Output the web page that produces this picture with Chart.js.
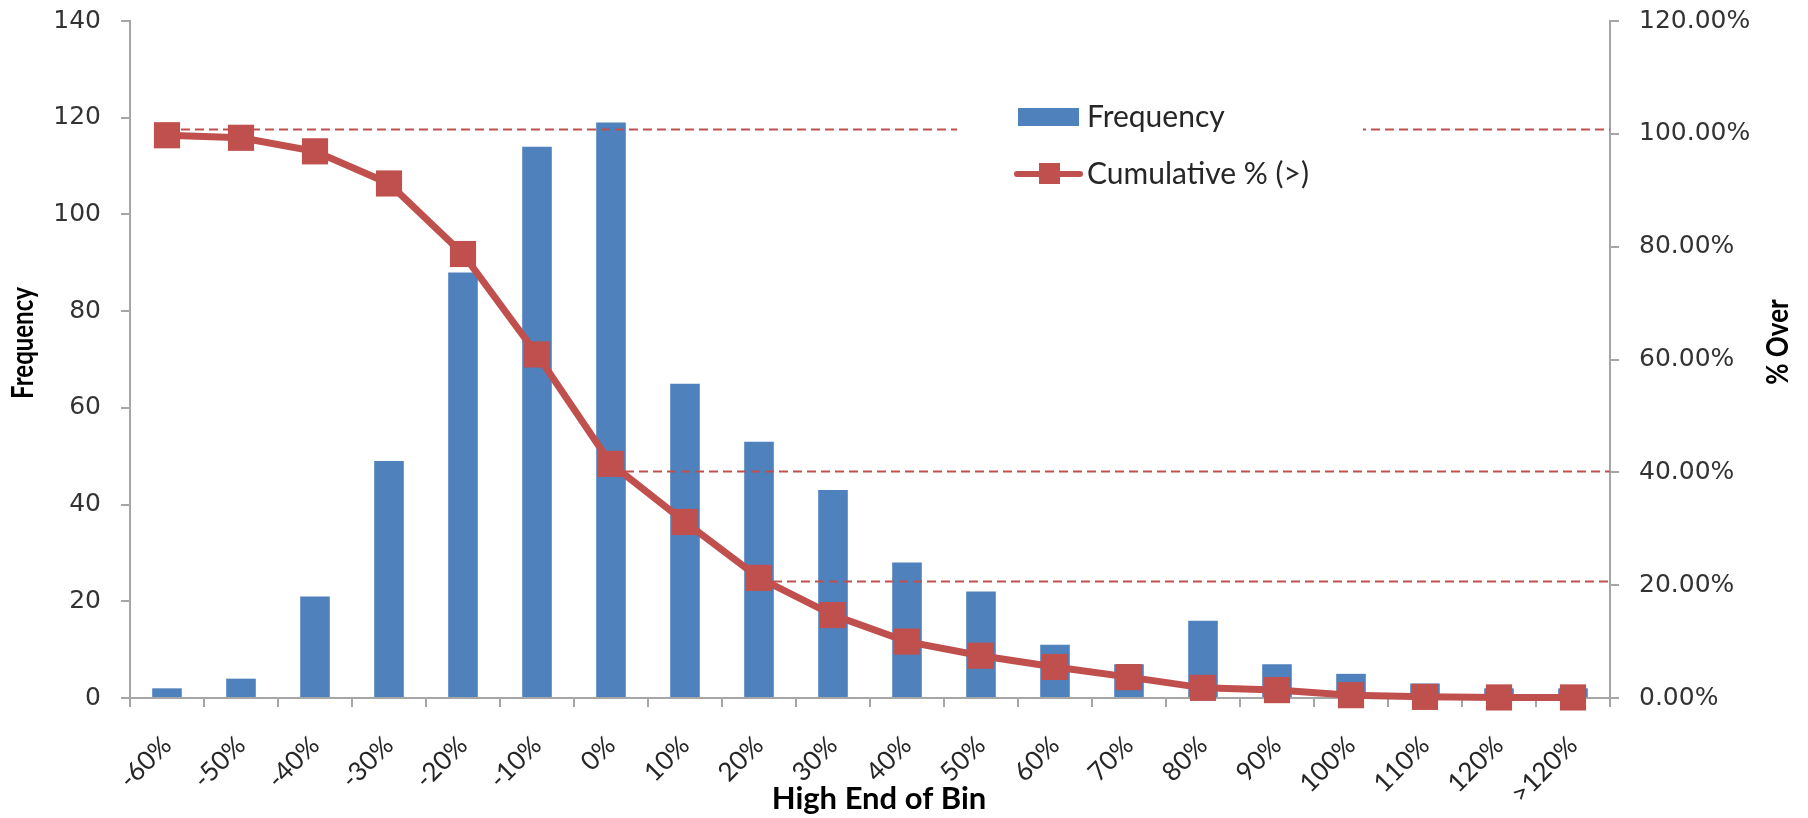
<!DOCTYPE html>
<html>
<head>
<meta charset="utf-8">
<script src="https://cdn.jsdelivr.net/npm/chart.js@4.4.1/dist/chart.umd.min.js"></script>
<style>
html,body{margin:0;padding:0;background:#ffffff;}
#wrap{width:1808px;height:818px;position:relative;}
</style>
</head>
<body>
<div id="wrap"><canvas id="c" width="1808" height="818"></canvas></div>
<script>
// ---- data ----
const categories = ['-60%','-50%','-40%','-30%','-20%','-10%','0%','10%','20%','30%','40%','50%','60%','70%','80%','90%','100%','110%','120%','>120%'];
const frequency = [2,4,21,49,88,114,119,65,53,43,28,22,11,7,16,7,5,3,2,2];
const cumulativeOver = [99.75,99.3,96.9,91.2,78.7,60.9,41.5,31.2,21.3,14.7,10.0,7.5,5.5,3.7,1.8,1.4,0.5,0.2,0.1,0.1];
const refLevels = [100.8, 40.3, 20.8];
const refStartIndex = [0, 6, 8];
const seriesNames = ['Frequency', 'Cumulative % (>)'];
const axisTitles = {x: 'High End of Bin', y: 'Frequency', y1: '% Over'};

const BLUE = '#4F81BD';
const RED = '#C0504D';
const AXIS = '#A6A6A6';
const TXT = '#262626';

const refLinesPlugin = {
  id: 'refLines',
  afterDatasetDraw(chart, args) {
    if (args.index !== 0) return;
    const ctx = chart.ctx, xs = chart.scales.x, ys = chart.scales.y1, ca = chart.chartArea;
    ctx.save();
    ctx.strokeStyle = RED;
    ctx.lineWidth = 2;
    ctx.setLineDash([9,5]);
    refLevels.forEach((lv, i) => {
      const y = Math.round(ys.getPixelForValue(lv)) + 0.5;
      ctx.beginPath();
      ctx.moveTo(xs.getPixelForValue(refStartIndex[i]), y);
      ctx.lineTo(ca.right, y);
      ctx.stroke();
    });
    ctx.restore();
  }
};

const legendPlugin = {
  id: 'customLegend',
  afterDraw(chart) {
    const ctx = chart.ctx;
    ctx.save();
    ctx.fillStyle = '#ffffff';
    ctx.fillRect(957, 84, 406, 122);
    // bar entry
    ctx.fillStyle = BLUE;
    ctx.fillRect(1018, 108, 61, 18);
    ctx.font = '30px Lato';
    ctx.fillStyle = TXT;
    ctx.textBaseline = 'middle';
    ctx.textAlign = 'left';
    ctx.fillText(seriesNames[0], 1087, 117);
    // line entry
    ctx.strokeStyle = RED;
    ctx.lineWidth = 6;
    ctx.lineCap = 'round';
    ctx.beginPath();
    ctx.moveTo(1017, 174);
    ctx.lineTo(1080, 174);
    ctx.stroke();
    ctx.fillStyle = RED;
    ctx.fillRect(1039, 163, 21, 21);
    ctx.fillStyle = TXT;
    ctx.fillText(seriesNames[1], 1087, 174);
    ctx.restore();
  }
};

const titlesPlugin = {
  id: 'axisTitles',
  afterDraw(chart) {
    const ctx = chart.ctx;
    ctx.save();
    ctx.fillStyle = '#000';
    ctx.textAlign = 'center';
    ctx.textBaseline = 'middle';
    // x title
    ctx.font = 'bold 31px Lato';
    ctx.fillText(axisTitles.x, 879, 799);
    // vertical titles (read bottom to top)
    ctx.save();
    ctx.font = 'bold 24px Lato';
    ctx.translate(23, 343);
    ctx.rotate(-Math.PI / 2);
    ctx.scale(1, 1.3);
    ctx.fillText(axisTitles.y, 0, 0);
    ctx.restore();
    ctx.save();
    ctx.font = 'bold 26px Lato';
    ctx.translate(1778, 342);
    ctx.rotate(-Math.PI / 2);
    ctx.scale(1, 1.2);
    ctx.fillText(axisTitles.y1, 0, 0);
    ctx.restore();
    ctx.restore();
  }
};

function zeroPad(s) { s.paddingTop = 0; s.paddingBottom = 0; }

new Chart(document.getElementById('c'), {
  data: {
    labels: categories,
    datasets: [
      {
        type: 'bar',
        label: seriesNames[0],
        data: frequency,
        backgroundColor: BLUE,
        borderWidth: 0,
        barPercentage: 0.4,
        categoryPercentage: 1.0,
        yAxisID: 'y',
        order: 1
      },
      {
        type: 'line',
        label: seriesNames[1],
        data: cumulativeOver,
        borderColor: RED,
        backgroundColor: RED,
        borderWidth: 7,
        pointStyle: 'rect',
        pointRadius: 18.5,
        pointBackgroundColor: RED,
        pointBorderColor: RED,
        pointBorderWidth: 0,
        tension: 0,
        clip: false,
        yAxisID: 'y1',
        order: 0
      }
    ]
  },
  options: {
    responsive: false,
    animation: false,
    layout: {padding: {top: 21, left: 0, right: 0, bottom: 0}},
    plugins: {legend: {display: false}, tooltip: {enabled: false}},
    scales: {
      x: {
        offset: true,
        grid: {display: true, drawOnChartArea: false, drawTicks: true, tickLength: 9, color: AXIS, lineWidth: 2, offset: true},
        border: {display: true, color: AXIS, width: 2},
        ticks: {autoSkip: false, maxRotation: 45, minRotation: 45, padding: 23, color: TXT, font: {family: 'Lato', size: 26}},
        title: {display: false},
        afterFit(s) { s.height = 120; s.paddingLeft = 0; s.paddingRight = 0; }
      },
      y: {
        position: 'left',
        min: 0, max: 140,
        ticks: {stepSize: 20, padding: 20, color: '#333333', font: {family: 'DejaVu Sans', size: 25}},
        grid: {drawOnChartArea: false, drawTicks: true, tickLength: 9, color: AXIS, lineWidth: 2},
        border: {display: true, color: AXIS, width: 2},
        title: {display: false},
        afterFit(s) { s.width = 130; zeroPad(s); }
      },
      y1: {
        position: 'right',
        min: 0, max: 120,
        ticks: {stepSize: 20, padding: 20, color: '#333333', font: {family: 'DejaVu Sans', size: 25},
          callback: v => Number(v).toFixed(2) + '%'},
        grid: {drawOnChartArea: false, drawTicks: true, tickLength: 9, color: AXIS, lineWidth: 2},
        border: {display: true, color: AXIS, width: 2},
        title: {display: false},
        afterFit(s) { s.width = 198; zeroPad(s); }
      }
    }
  },
  plugins: [refLinesPlugin, legendPlugin, titlesPlugin]
});
</script>
</body>
</html>
